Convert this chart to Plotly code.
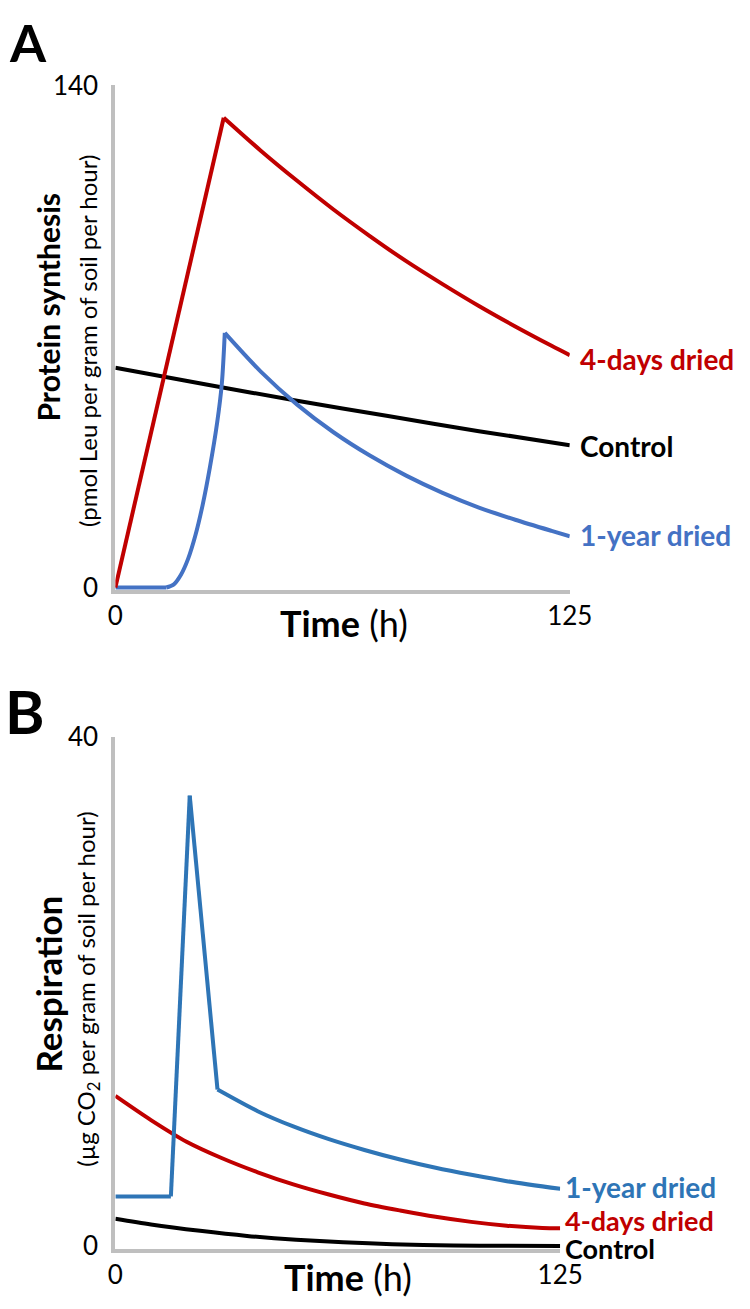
import plotly.graph_objects as go

W, H = 750, 1309

# ---------------- Data ----------------
# Panel A: protein synthesis (pmol Leu per g soil per hour)
a_red_t = [0, 29.8, 40, 50, 60, 70, 80, 90, 100, 110, 120, 125]
a_red_v = [0, 131, 121.8, 113.4, 105.4, 98, 91, 84.6, 78.5, 72.8, 67.4, 64.8]

a_ctrl_t = [0, 25, 50, 75, 100, 125]
a_ctrl_v = [61.3, 56.6, 52.1, 47.8, 43.6, 39.7]

a_blue_t = [0, 14, 16, 18, 20, 22, 24, 26, 28, 29.3, 30.1, 40, 50, 60, 70, 80, 90, 100, 110, 120, 125]
a_blue_v = [0, 0, 0.8, 3.5, 8, 14.5, 23, 33.5, 46, 57, 71, 60.2, 51, 43.3, 36.8, 31.2, 26.4, 22.3,
            18.9, 15.8, 14.3]

# Panel B: respiration (µg CO2 per g soil per hour)
b_blue_t = [0, 15.6, 20.9, 28.7, 40, 50, 60, 70, 80, 90, 100, 110, 125]
b_blue_v = [3.9, 3.9, 35.4, 12.3, 10.6, 9.4, 8.4, 7.55, 6.8, 6.15, 5.6, 5.1, 4.5]

b_red_t = [0, 10, 20, 30, 40, 50, 60, 70, 80, 90, 100, 110, 120, 125]
b_red_v = [11.8, 9.9, 8.2, 6.9, 5.8, 4.85, 4.05, 3.35, 2.8, 2.3, 1.9, 1.6, 1.42, 1.4]

b_ctrl_t = [0, 10, 23.8, 37, 50.8, 64, 77.8, 95, 110, 125]
b_ctrl_v = [2.15, 1.7, 1.2, 0.8, 0.5, 0.3, 0.15, 0.05, 0.02, 0]

series_labels = ["4-days dried", "Control", "1-year dried"]
x_ticks = [0, 125]
a_y_ticks = [0, 140]
b_y_ticks = [0, 40]

# ---------------- Styling ----------------
RED = "#C00000"
BLUE_A = "#4472C4"
BLUE_B = "#2E75B6"
BLACK = "#000000"
GRAY = "#BFBFBF"
FONT = "Lato"
LW = 4


def px(x):
    return x / W


def py(y):
    return 1 - y / H


fig = go.Figure()


def add_line(t, v, color, xa, ya, breaks=(), curved=()):
    """Draw a series as pieces split at sharp corners (indices in breaks);
    pieces whose number is in `curved` are drawn smooth."""
    idx = [0] + list(breaks) + [len(t) - 1]
    for k in range(len(idx) - 1):
        s, e = idx[k], idx[k + 1]
        smooth = k in curved
        fig.add_trace(go.Scatter(
            x=t[s:e + 1], y=v[s:e + 1], mode="lines",
            line=dict(color=color, width=LW, shape="spline" if smooth else "linear",
                      smoothing=0.8 if smooth else None),
            xaxis=xa, yaxis=ya, showlegend=False, hoverinfo="skip"))


add_line(a_ctrl_t, a_ctrl_v, BLACK, "x", "y", curved=(0,))
add_line(a_blue_t, a_blue_v, BLUE_A, "x", "y", breaks=(1, 10), curved=(1, 2))
add_line(a_red_t, a_red_v, RED, "x", "y", breaks=(1,), curved=(1,))

add_line(b_ctrl_t, b_ctrl_v, BLACK, "x2", "y2", curved=(0,))
add_line(b_red_t, b_red_v, RED, "x2", "y2", curved=(0,))
add_line(b_blue_t, b_blue_v, BLUE_B, "x2", "y2", breaks=(1, 2, 3), curved=(3,))

axis_common = dict(showgrid=False, zeroline=False, showline=True, linecolor=GRAY, linewidth=4,
                   ticks="", tickfont=dict(family=FONT, size=26, color=BLACK))

fig.update_layout(
    width=W, height=H, margin=dict(l=0, r=0, t=0, b=0),
    paper_bgcolor="white", plot_bgcolor="white",
    xaxis=dict(domain=[px(112), px(586)], range=[0, 125], anchor="y",
               tickvals=x_ticks, ticktext=[str(v) for v in x_ticks], **axis_common),
    yaxis=dict(domain=[py(586.5), py(70)], range=[-0.7, 140], anchor="x",
               tickvals=a_y_ticks, ticktext=[str(v) for v in a_y_ticks], ticklabelstandoff=8,
               **axis_common),
    xaxis2=dict(domain=[px(112), px(576)], range=[0, 125], anchor="y2",
                tickvals=x_ticks, ticktext=[str(v) for v in x_ticks], **axis_common),
    yaxis2=dict(domain=[py(1260.5), py(737)], range=[-0.2, 40], anchor="x2",
                tickvals=b_y_ticks, ticktext=[str(v) for v in b_y_ticks], ticklabelstandoff=8,
                **axis_common),
)

ann = []


def text(x, y, s, size, color=BLACK, angle=0, xanchor="center"):
    ann.append(dict(x=px(x), y=py(y), xref="paper", yref="paper", text=s, showarrow=False,
                    xanchor=xanchor, yanchor="middle", textangle=angle,
                    font=dict(family=FONT, size=size, color=color)))


# Panel letters
text(21, 26, "<b>A</b>", 52)
text(18, 710, "<b>B</b>", 60)

# Axis titles
text(350, 620, "<b>Time</b> (h)", 36)
text(355, 1290, "<b>Time</b> (h)", 36)
text(42, 297, "<b>Protein synthesis</b>", 30, angle=-90)
text(83, 332, "(pmol Leu per gram of soil per hour)", 24, angle=-90)
text(42, 990, "<b>Respiration</b>", 35, angle=-90)
text(83, 995, "(µg CO<sub>2</sub> per gram of soil per hour)", 24, angle=-90)

# Series labels, panel A
text(595, 350, "<b>" + series_labels[0] + "</b>", 28, RED, xanchor="left")
text(595, 439, "<b>" + series_labels[1] + "</b>", 28, BLACK, xanchor="left")
text(595, 530, "<b>" + series_labels[2] + "</b>", 28, BLUE_A, xanchor="left")
# Series labels, panel B
text(579, 1197, "<b>" + series_labels[2] + "</b>", 28, BLUE_B, xanchor="left")
text(579, 1232, "<b>" + series_labels[0] + "</b>", 27, RED, xanchor="left")
text(579, 1260, "<b>" + series_labels[1] + "</b>", 27, BLACK, xanchor="left")

fig.update_layout(annotations=ann)
fig.write_html("out.html", config={"displayModeBar": False},
               post_script="document.body.style.margin='0px';")
